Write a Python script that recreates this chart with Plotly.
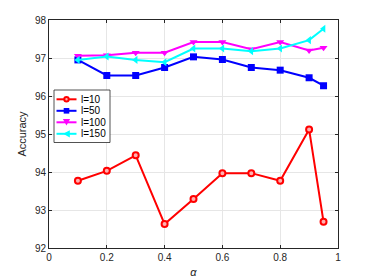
import plotly.graph_objects as go

alpha = [0.1, 0.2, 0.3, 0.4, 0.5, 0.6, 0.7, 0.8, 0.9, 0.95]
l10 = [93.77, 94.03, 94.44, 92.63, 93.29, 93.97, 93.97, 93.77, 95.12, 92.69]
l50 = [96.95, 96.54, 96.54, 96.75, 97.03, 96.96, 96.75, 96.68, 96.48, 96.27]
l100 = [97.06, 97.07, 97.14, 97.14, 97.42, 97.42, 97.23, 97.42, 97.20, 97.27]
l150 = [96.95, 97.04, 96.95, 96.89, 97.25, 97.25, 97.18, 97.25, 97.47, 97.77]
names = ["l=10", "l=50", "l=100", "l=150"]
colors = ["#ff0000", "#0000ff", "#ff00ff", "#00ffff"]
symbols = ["circle", "square", "triangle-down", "triangle-left"]
series = [l10, l50, l100, l150]

W, H = 366, 272
ML, MR, MT, MB = 41, 36, 12, 32
PW, PH = W - ML - MR, H - MT - MB

fig = go.Figure()
for name, ys, c, s in zip(names, series, colors, symbols):
    if s == "circle":
        mk_style = dict(color="#ffb0b0", symbol=s, size=6, line=dict(color=c, width=2))
    else:
        mk_style = dict(color=c, symbol=s, size=7, line=dict(width=0))
    fig.add_trace(go.Scatter(
        x=alpha, y=ys, name=name, mode="lines+markers",
        line=dict(color=c, width=2),
        marker=mk_style,
        showlegend=False,
    ))

font_family = "Liberation Sans, Arial"
axis_common = dict(
    showline=True, linecolor="#262626", linewidth=0.8, mirror="ticks",
    ticks="inside", ticklen=3, tickcolor="#262626",
    showgrid=True, gridcolor="#e6e6e6", gridwidth=0.8,
    zeroline=False, automargin=False,
    tickfont=dict(family=font_family, size=10, color="#262626"),
)
fig.update_xaxes(range=[0, 1], tickvals=[0, 0.2, 0.4, 0.6, 0.8, 1],
                 ticktext=["0", "0.2", "0.4", "0.6", "0.8", "1"],
                 title=dict(text="<i>α</i>", standoff=6,
                            font=dict(family=font_family, size=11, color="#262626")),
                 **axis_common)
fig.update_yaxes(range=[92, 98], tickvals=[92, 93, 94, 95, 96, 97, 98],
                 title=dict(text="Accuracy", standoff=6,
                            font=dict(family=font_family, size=11, color="#262626")),
                 **axis_common)

# ---- compact MATLAB-style legend (positions in pixels from the plot-area corner) ----
def px(dx):
    return dx / PW

def py(dy):
    return 1 - dy / PH

shapes = []
annotations = []
box_l, box_r, box_t, box_b = 5, 61, 70, 122.5
shapes.append(dict(type="rect", xref="paper", yref="paper",
                   x0=px(box_l), x1=px(box_r), y0=py(box_b), y1=py(box_t),
                   fillcolor="white", line=dict(color="#262626", width=0.8), layer="above"))
row0, row_gap = 79.3, 11.5
ln_l, ln_r = 7.5, 27.5
mk = 3.3
for i, (name, c, s) in enumerate(zip(names, colors, symbols)):
    yy = row0 + i * row_gap
    shapes.append(dict(type="line", xref="paper", yref="paper",
                       x0=px(ln_l), x1=px(ln_r), y0=py(yy), y1=py(yy),
                       line=dict(color=c, width=2), layer="above"))
    cx = (ln_l + ln_r) / 2
    if s == "circle":
        shapes.append(dict(type="circle", xref="paper", yref="paper",
                           x0=px(cx - 2.2), x1=px(cx + 2.2),
                           y0=py(yy + 2.2), y1=py(yy - 2.2),
                           fillcolor="#ffb0b0", line=dict(color=c, width=2), layer="above"))
    elif s == "square":
        m = mk * 0.85
        shapes.append(dict(type="rect", xref="paper", yref="paper",
                           x0=px(cx - m), x1=px(cx + m), y0=py(yy + m), y1=py(yy - m),
                           fillcolor=c, line=dict(width=0), layer="above"))
    elif s == "triangle-down":
        p = f"M {px(cx - mk*1.1)} {py(yy - mk)} L {px(cx + mk*1.1)} {py(yy - mk)} L {px(cx)} {py(yy + mk)} Z"
        shapes.append(dict(type="path", xref="paper", yref="paper", path=p,
                           fillcolor=c, line=dict(width=0), layer="above"))
    else:
        p = f"M {px(cx + mk)} {py(yy - mk*1.1)} L {px(cx + mk)} {py(yy + mk*1.1)} L {px(cx - mk)} {py(yy)} Z"
        shapes.append(dict(type="path", xref="paper", yref="paper", path=p,
                           fillcolor=c, line=dict(width=0), layer="above"))
    annotations.append(dict(xref="paper", yref="paper", x=px(29.5), y=py(yy),
                            xanchor="left", yanchor="middle", text=name, showarrow=False,
                            font=dict(family=font_family, size=10, color="#000")))

fig.update_layout(
    width=W, height=H,
    margin=dict(l=ML, r=MR, t=MT, b=MB),
    paper_bgcolor="white", plot_bgcolor="white",
    shapes=shapes, annotations=annotations,
    showlegend=False,
)
fig.write_html("out.html")
